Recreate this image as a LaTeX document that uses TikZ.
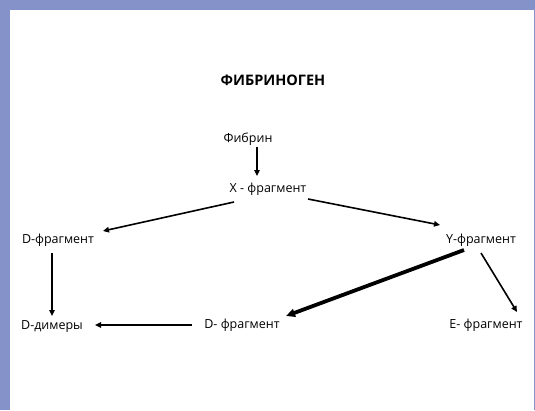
\documentclass[tikz,border=0pt]{standalone}
\usepackage{fontspec}
\setmainfont{Open Sans}
\usetikzlibrary{arrows.meta, positioning}
\definecolor{frameblue}{HTML}{8492C9}

\begin{document}
\begin{tikzpicture}[
        x=1pt, y=-1pt,
        >={Triangle[length=6pt, width=5.5pt]},
        frag/.style={inner sep=0pt, anchor=base, font=\fontsize{12.5}{14}\selectfont},
        title/.style={inner sep=0pt, anchor=base, font=\fontsize{14.5}{16}\selectfont\bfseries},
        link/.style={->, line width=1.6pt},
        heavylink/.style={-{Triangle[length=9pt, width=8pt]}, line width=3.8pt}
    ]
        \fill[frameblue] (0,0) rectangle (535,410);
        \fill[white] (10,10) rectangle (534,410);
        \useasboundingbox (0,0) rectangle (535,410);

        \node[title] (fibrinogen) at (273,85) {ФИБРИНОГЕН};
        \node[frag] (fibrin) at (248,142) {Фибрин};
        \node[frag] (xfrag) at (268,192) {X - фрагмент};
        \node[frag] (dfragA) at (58,243) {D-фрагмент};
        \node[frag] (yfrag) at (481,243) {Y-фрагмент};
        \node[frag] (ddimer) at (52,329) {D-димеры};
        \node[frag] (dfragB) at (242,328) {D- фрагмент};
        \node[frag] (efrag) at (486,328) {E- фрагмент};

        \draw[link] ([shift={(9,5)}]fibrin.base) -- ([shift={(-11,-16)}]xfrag.base);
        \draw[link] ([shift={(-34,10)}]xfrag.base) -- ([shift={(45,-12)}]dfragA.base);
        \draw[link] ([shift={(40,7)}]xfrag.base) -- ([shift={(-41,-18)}]yfrag.base);
        \draw[link] ([shift={(-6,10)}]dfragA.base) -- ([shift={(0,-13)}]ddimer.base);
        \draw[link] ([shift={(-50,-3)}]dfragB.base) -- ([shift={(43,-4)}]ddimer.base);
        \draw[heavylink] ([shift={(-17,7)}]yfrag.base) -- ([shift={(44,-12)}]dfragB.base);
        \draw[link] ([shift={(0,10)}]yfrag.base) -- ([shift={(31,-16)}]efrag.base);
    \end{tikzpicture}
\end{document}
